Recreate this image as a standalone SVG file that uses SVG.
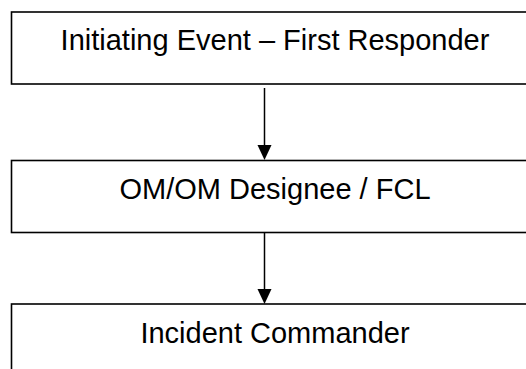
<svg xmlns="http://www.w3.org/2000/svg" width="526" height="369" viewBox="0 0 526 369">
<defs>
<style>
.box{fill:#fff;stroke:#000;stroke-width:1.6}
.lbl{font-family:"Liberation Sans",Arial,sans-serif;font-size:29px;fill:#000;text-anchor:middle}
.conn{stroke:#000;stroke-width:1.5;fill:none}
</style>
</defs>
<rect width="526" height="369" fill="#fff"/>
<g id="node1">
<rect class="box" x="11.5" y="12" width="540" height="72"/>
<text class="lbl" x="275" y="49.5">Initiating Event – First Responder</text>
</g>
<g id="node2">
<rect class="box" x="11.5" y="160.5" width="540" height="72"/>
<text class="lbl" x="275" y="198.5">OM/OM Designee / FCL</text>
</g>
<g id="node3">
<rect class="box" x="11.5" y="304" width="540" height="100"/>
<text class="lbl" x="275" y="342.5">Incident Commander</text>
</g>
<g id="connectors">
<line class="conn" x1="264.5" y1="88" x2="264.5" y2="146"/>
<path d="M257.5,145 L271.5,145 L264.5,160 Z" fill="#000"/>
<line class="conn" x1="264.5" y1="233" x2="264.5" y2="290"/>
<path d="M257.5,289 L271.5,289 L264.5,304 Z" fill="#000"/>
</g>
</svg>
